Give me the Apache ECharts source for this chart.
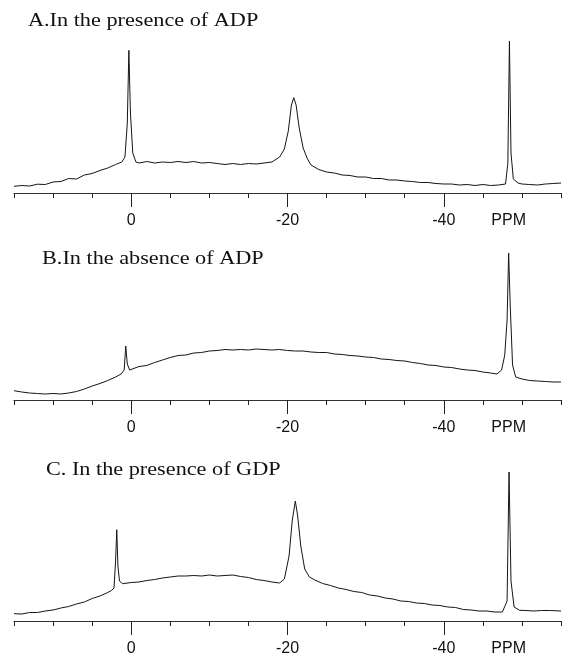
<!DOCTYPE html>
<html>
<head>
<meta charset="utf-8">
<script src="https://cdn.jsdelivr.net/npm/echarts@6/dist/echarts.min.js"></script>
<style>
html,body{margin:0;padding:0;background:#fff;}
#chart{width:565px;height:660px;}
</style>
</head>
<body>
<div id="chart"></div>
<script>
// ---- data (chemical shift in ppm, signal intensity in arbitrary units) ----
var titles = ['A.In the presence of ADP', 'B.In the absence of ADP', 'C. In the presence of GDP'];
var majorTicks = [0, -20, -40];
var axisUnit = 'PPM';

var shiftA = [15,14,13,12,11,10,9,8,7,6,5,4,3,2,1.2,0.8,0.5,0.3,0.1,-0.2,-0.6,-1,-2,-3,-4,-5,-6,-7,-8,-9,-10,-11,-12,-13,-14,-15,-16,-17,-18,-19,-19.6,-20.1,-20.5,-20.8,-21.1,-21.5,-22,-22.5,-23,-24,-25,-26,-27,-28,-29,-30,-31,-32,-33,-34,-35,-36,-37,-38,-39,-40,-41,-42,-43,-44,-45,-46,-47,-47.9,-48.2,-48.4,-48.6,-48.9,-49.5,-50,-51,-52,-53,-54,-55];
var signalA = [6.7,7.5,7,8.8,8.5,11,11.5,14.5,14,18,19.5,22.5,25,28.5,31,36,70,142.7,80,40,31,30,31.5,30,31,30.5,31.5,30.5,31.5,30,30.5,29.5,28.5,29.5,28.5,29.5,29,30,31,36,44,62,88,95.3,88,65,45,35,28,23.5,21,20,18,17.5,16,16,14.5,14.5,13,13,12,11.5,10.5,10.5,9.5,9,9,8,8.5,7.5,8.5,7.5,8,9,30,152,40,14,10,9,8.5,8,9,9.5,10];

var shiftB = [15,14,13,12,11,10,9,8,7,6,5,4,3,2,1.3,0.9,0.7,0.5,0.2,0,-1,-2,-3,-4,-5,-6,-7,-8,-9,-10,-11,-12,-13,-14,-15,-16,-17,-18,-19,-20,-21,-22,-23,-24,-25,-26,-27,-28,-29,-30,-31,-32,-33,-34,-35,-36,-37,-38,-39,-40,-41,-42,-43,-44,-45,-46,-46.8,-47.4,-47.8,-48.1,-48.3,-48.5,-48.8,-49.2,-50,-51,-52,-53,-54,-55];
var signalB = [9.3,8,7,6.5,6,6.5,6,7,8.5,11,14,16.5,19.5,23,26,30,54,36,30,30.5,33.5,34.5,37.5,40,42.5,44.5,45,47,47.5,49,49.5,50.5,50,50.5,50,51,50.5,50,50.5,49.5,49,49,48,47.5,47.5,46,45.5,44.5,44,43,42.5,41,40.5,39.5,39,37.5,36.5,35,34.5,33,32.5,31,30,29.5,28,27,26,30,45,80,147,95,35,23,21,19.5,19,18.5,18,18];

var shiftC = [15,14,13,12,11,10,9,8,7,6,5,4,3,2.5,2.2,2.0,1.85,1.7,1.5,1.1,0,-1,-2,-3,-4,-5,-6,-7,-8,-9,-10,-11,-12,-13,-14,-15,-16,-17,-18,-19,-19.6,-20.2,-20.6,-21,-21.3,-21.7,-22.2,-22.8,-23.5,-24.5,-25.5,-26.5,-27.5,-28.5,-29.5,-30.5,-31.5,-32.5,-33.5,-34.5,-35.5,-36.5,-37.5,-38.5,-39.5,-40.5,-41.5,-42.5,-43.5,-44.5,-45.5,-46.5,-47.5,-48.1,-48.35,-48.6,-49,-49.7,-50.5,-51.5,-52.5,-53.5,-55];
var signalC = [7.3,7,8.5,8.5,10,11,13,14.5,17,19,22.5,25,28.5,30.7,33,60,91.3,55,40,37.3,38.5,39,40.5,41.5,43,44,45,45,45.5,45,46,45,45.5,46,44.5,43.5,41.5,40.5,39,38,42,65,100,120,105,75,52,44,41,37.5,35.5,33,31.5,29.5,28.5,26,25,23,22,20,19.5,18,17.5,16,15.5,14,13.5,11.5,11,10,10,9,9,20,149,40,14,10.7,10.5,10,10.5,10.5,10];

// ---- layout ----
var panels = [
  {shift: shiftA, signal: signalA, top: 40},
  {shift: shiftB, signal: signalB, top: 247},
  {shift: shiftC, signal: signalC, top: 468}
];
var plotH = 153;
var titlePos = [[28, 12], [42, 250], [46, 461]];

var chart = echarts.init(document.getElementById('chart'), null, {renderer: 'canvas'});
var grid = [], xAxis = [], yAxis = [], series = [], graphic = [];

panels.forEach(function (p, i) {
  grid.push({left: 14, right: 4, top: p.top, height: plotH});
  // minor ticks every 5 ppm
  xAxis.push({
    gridIndex: i, type: 'value', position: 'bottom', min: -55, max: 15, interval: 5, inverse: true,
    axisLine: {show: true, onZero: false, lineStyle: {color: '#333', width: 1.2}},
    axisTick: {show: true, length: 5, lineStyle: {color: '#222', width: 1}},
    axisLabel: {show: false}, splitLine: {show: false}
  });
  // major ticks and labels
  xAxis.push({
    gridIndex: i, type: 'value', position: 'bottom', min: -55, max: 15, interval: 5, inverse: true,
    axisLine: {show: false, onZero: false},
    axisTick: {show: true, length: 14, customValues: majorTicks, lineStyle: {color: '#222', width: 1}},
    axisLabel: {
      show: true, margin: 20, customValues: majorTicks.concat([-48.3]),
      fontFamily: 'Liberation Sans, Arial, sans-serif', fontSize: 16, color: '#111',
      formatter: function (v) { return v < -45 ? axisUnit : String(v); }
    },
    splitLine: {show: false}
  });
  yAxis.push({gridIndex: i, type: 'value', min: 0, max: plotH, show: false});
  series.push({
    type: 'line', xAxisIndex: 2 * i, yAxisIndex: i, showSymbol: false, silent: true,
    lineStyle: {color: '#151515', width: 1},
    data: p.shift.map(function (s, k) { return [s, p.signal[k]]; })
  });
  graphic.push({
    type: 'text', x: titlePos[i][0], y: titlePos[i][1], scaleX: 1.17,
    style: {text: titles[i], fontFamily: 'Liberation Serif, Times New Roman, serif', fontSize: 19, fill: '#111'}
  });
});

chart.setOption({
  animation: false,
  backgroundColor: '#fff',
  grid: grid,
  xAxis: xAxis,
  yAxis: yAxis,
  series: series,
  graphic: graphic
});
</script>
</body>
</html>
